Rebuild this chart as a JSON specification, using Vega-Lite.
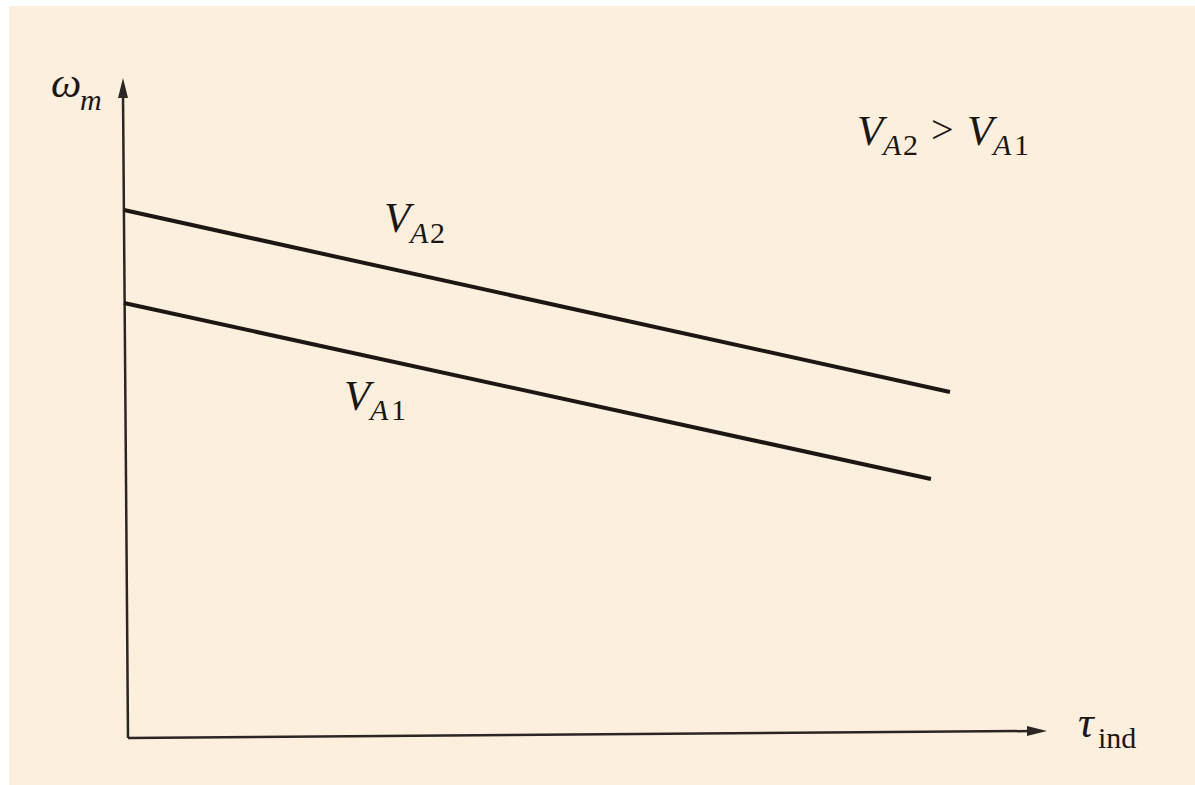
{
  "$schema": "https://vega.github.io/schema/vega-lite/v6.json",
  "width": 1195,
  "height": 785,
  "autosize": {"type": "fit", "contains": "padding"},
  "padding": 0,
  "background": "#fcefdd",
  "config": {"view": {"stroke": null}},
  "datasets": {
    "margins": [
      {"tau0": -128, "tau1": -119, "omega0": -47, "omega1": 738},
      {"tau0": -128, "tau1": 1067, "omega0": 732, "omega1": 738}
    ],
    "axes": [
      {"axis": "omega", "tau": 0, "omega": 0},
      {"axis": "omega", "tau": -5, "omega": 645},
      {"axis": "tau", "tau": 0, "omega": 0},
      {"axis": "tau", "tau": 905, "omega": 7}
    ],
    "arrowUp": [{"tau": -5, "omega": 650}],
    "arrowRight": [{"tau": 909, "omega": 7}],
    "curves": [
      {"series": "VA2", "tau": -4, "omega": 528},
      {"series": "VA2", "tau": 822, "omega": 346},
      {"series": "VA1", "tau": -4, "omega": 435},
      {"series": "VA1", "tau": 803, "omega": 259}
    ],
    "bigItalic": [
      {"label": "ω", "tau": -77, "omega": 641},
      {"label": "V", "tau": 256, "omega": 506},
      {"label": "V", "tau": 216, "omega": 328},
      {"label": "V", "tau": 729, "omega": 593},
      {"label": "V", "tau": 839, "omega": 593}
    ],
    "tauSym": [{"label": "τ", "tau": 950, "omega": 1}],
    "subItalic": [
      {"label": "m", "tau": -48, "omega": 628},
      {"label": "A", "tau": 282, "omega": 495},
      {"label": "A", "tau": 242, "omega": 318},
      {"label": "A", "tau": 755, "omega": 583},
      {"label": "A", "tau": 865, "omega": 583}
    ],
    "subUpright": [
      {"label": "2", "tau": 302, "omega": 495},
      {"label": "1", "tau": 263, "omega": 318},
      {"label": "2", "tau": 775, "omega": 583},
      {"label": "1", "tau": 886, "omega": 583},
      {"label": "ind", "tau": 970, "omega": -10}
    ],
    "relation": [{"label": ">", "tau": 803, "omega": 595}]
  },
  "layer": [
    {
      "data": {"name": "margins"},
      "mark": {"type": "rect", "color": "#ffffff"},
      "encoding": {
        "x": {"field": "tau0", "type": "quantitative", "scale": {"domain": [-128, 1067], "nice": false, "zero": false}, "axis": null},
        "x2": {"field": "tau1"},
        "y": {"field": "omega0", "type": "quantitative", "scale": {"domain": [-47, 738], "nice": false, "zero": false}, "axis": null},
        "y2": {"field": "omega1"}
      }
    },
    {
      "data": {"name": "axes"},
      "mark": {"type": "line", "color": "#2b2623", "strokeWidth": 2.5},
      "encoding": {
        "x": {"field": "tau", "type": "quantitative"},
        "y": {"field": "omega", "type": "quantitative"},
        "detail": {"field": "axis"}
      }
    },
    {
      "data": {"name": "arrowUp"},
      "mark": {"type": "point", "shape": "M0,-1L0.5,1L-0.5,1Z", "filled": true, "size": 400, "color": "#2b2623", "opacity": 1},
      "encoding": {
        "x": {"field": "tau", "type": "quantitative"},
        "y": {"field": "omega", "type": "quantitative"}
      }
    },
    {
      "data": {"name": "arrowRight"},
      "mark": {"type": "point", "shape": "M1,0L-1,-0.5L-1,0.5Z", "filled": true, "size": 400, "color": "#2b2623", "opacity": 1},
      "encoding": {
        "x": {"field": "tau", "type": "quantitative"},
        "y": {"field": "omega", "type": "quantitative"}
      }
    },
    {
      "data": {"name": "curves"},
      "mark": {"type": "line", "color": "#1c1714", "strokeWidth": 4},
      "encoding": {
        "x": {"field": "tau", "type": "quantitative"},
        "y": {"field": "omega", "type": "quantitative"},
        "detail": {"field": "series"}
      }
    },
    {
      "data": {"name": "bigItalic"},
      "mark": {"type": "text", "font": "Liberation Serif", "fontStyle": "italic", "fontSize": 43, "align": "left", "baseline": "alphabetic", "color": "#1c1714"},
      "encoding": {
        "x": {"field": "tau", "type": "quantitative"},
        "y": {"field": "omega", "type": "quantitative"},
        "text": {"field": "label"}
      }
    },
    {
      "data": {"name": "tauSym"},
      "mark": {"type": "text", "font": "Liberation Serif", "fontStyle": "italic", "fontSize": 44, "align": "left", "baseline": "alphabetic", "color": "#1c1714"},
      "encoding": {
        "x": {"field": "tau", "type": "quantitative"},
        "y": {"field": "omega", "type": "quantitative"},
        "text": {"field": "label"}
      }
    },
    {
      "data": {"name": "subItalic"},
      "mark": {"type": "text", "font": "Liberation Serif", "fontStyle": "italic", "fontSize": 30, "align": "left", "baseline": "alphabetic", "color": "#1c1714"},
      "encoding": {
        "x": {"field": "tau", "type": "quantitative"},
        "y": {"field": "omega", "type": "quantitative"},
        "text": {"field": "label"}
      }
    },
    {
      "data": {"name": "subUpright"},
      "mark": {"type": "text", "font": "Liberation Serif", "fontSize": 30, "align": "left", "baseline": "alphabetic", "color": "#1c1714"},
      "encoding": {
        "x": {"field": "tau", "type": "quantitative"},
        "y": {"field": "omega", "type": "quantitative"},
        "text": {"field": "label"}
      }
    },
    {
      "data": {"name": "relation"},
      "mark": {"type": "text", "font": "Liberation Serif", "fontSize": 40, "align": "left", "baseline": "alphabetic", "color": "#1c1714"},
      "encoding": {
        "x": {"field": "tau", "type": "quantitative"},
        "y": {"field": "omega", "type": "quantitative"},
        "text": {"field": "label"}
      }
    }
  ]
}
